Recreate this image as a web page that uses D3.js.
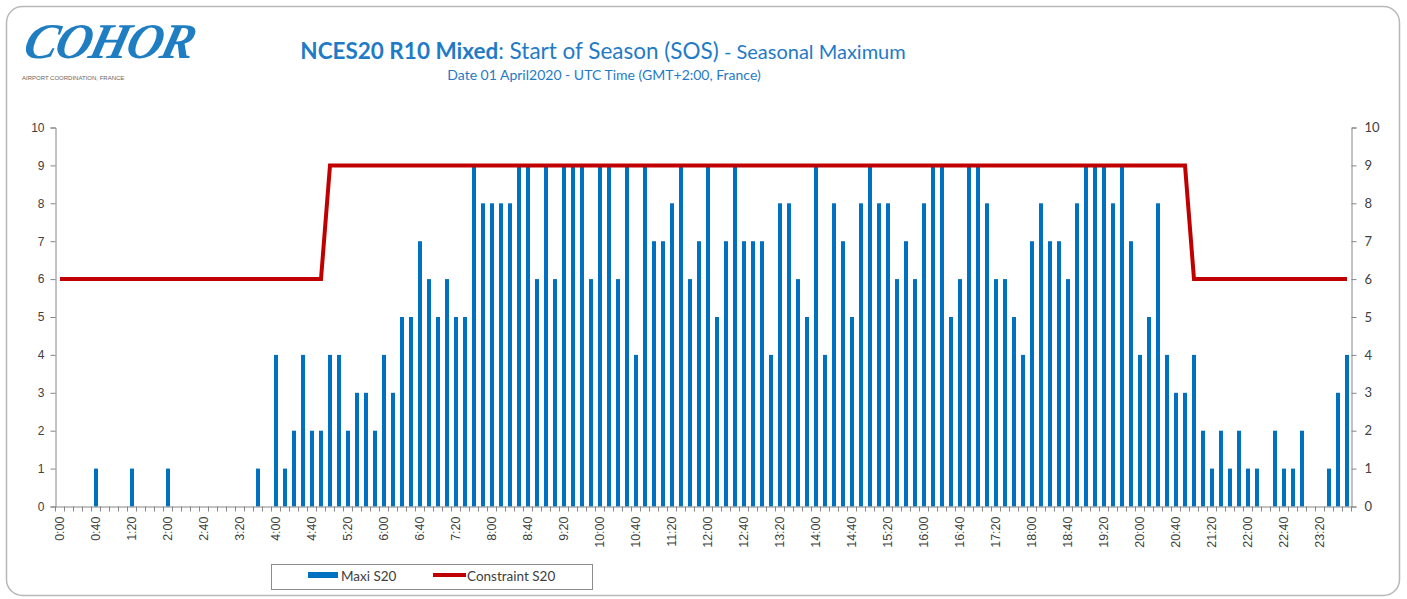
<!DOCTYPE html>
<html>
<head>
<meta charset="utf-8">
<script src="https://cdn.jsdelivr.net/npm/d3@7"></script>
<style>
  body { margin: 0; background: #fff; }
  svg { display: block; }
</style>
</head>
<body>
<div id="chart"></div>
<script>
// 10-minute slots, 0:00 .. 23:50
const slots = d3.range(0, 144).map(i => `${Math.floor(i / 6)}:${String((i % 6) * 10).padStart(2, "0")}`);

// Maxi S20 (bars)
const maxiS20 = [
  0,0,0,0,1,0,0,0,1,0,0,0,1,0,0,0,0,0,0,0,0,0,1,0,
  4,1,2,4,2,2,4,4,2,3,3,2,4,3,5,5,7,6,5,6,5,5,9,8,
  8,8,8,9,9,6,9,6,9,9,9,6,9,9,6,9,4,9,7,7,8,9,6,7,
  9,5,7,9,7,7,7,4,8,8,6,5,9,4,8,7,5,8,9,8,8,6,7,6,
  8,9,9,5,6,9,9,8,6,6,5,4,7,8,7,7,6,8,9,9,9,8,9,7,
  4,5,8,4,3,3,4,2,1,2,1,2,1,1,0,2,1,1,2,0,0,1,3,4
];

// Constraint S20 (line)
const constraintS20 = [
  6,6,6,6,6,6,6,6,6,6,6,6,6,6,6,6,6,6,6,6,6,6,6,6,
  6,6,6,6,6,6,9,9,9,9,9,9,9,9,9,9,9,9,9,9,9,9,9,9,
  9,9,9,9,9,9,9,9,9,9,9,9,9,9,9,9,9,9,9,9,9,9,9,9,
  9,9,9,9,9,9,9,9,9,9,9,9,9,9,9,9,9,9,9,9,9,9,9,9,
  9,9,9,9,9,9,9,9,9,9,9,9,9,9,9,9,9,9,9,9,9,9,9,9,
  9,9,9,9,9,9,6,6,6,6,6,6,6,6,6,6,6,6,6,6,6,6,6,6
];

const yTicks = d3.range(0, 11);
const labelEvery = 4;

const W = 1407, H = 599;
const blue = "#0070C0", red = "#C00000", titleBlue = "#1F7BC6";
const axisGrey = "#868686", textGrey = "#404040";

const svg = d3.select("#chart").append("svg")
  .attr("width", W).attr("height", H);

// card frame
svg.append("rect")
  .attr("x", 6.5).attr("y", 6.5)
  .attr("width", 1393).attr("height", 589)
  .attr("rx", 16)
  .attr("fill", "#fff")
  .attr("stroke", "#b8b8b8")
  .attr("stroke-width", 1.5);

// logo
svg.append("text")
  .attr("x", 22).attr("y", 58)
  .attr("transform", "skewX(-14) translate(14,0)")
  .style("font-family", "'Liberation Serif', serif")
  .style("font-style", "italic")
  .style("font-weight", "bold")
  .style("font-size", "50px")
  .style("letter-spacing", "-2px")
  .attr("fill", "#1F7EC2")
  .text("COHOR");
svg.append("text")
  .attr("x", 22).attr("y", 80)
  .style("font-family", "'Liberation Sans', Arial, sans-serif")
  .style("font-size", "6px")
  .attr("fill", "#666")
  .text("AIRPORT COORDINATION, FRANCE");

// titles
const title = svg.append("text")
  .attr("x", 603).attr("y", 59)
  .attr("text-anchor", "middle")
  .style("font-family", "Lato, 'Open Sans', sans-serif")
  .attr("fill", titleBlue);
title.append("tspan").style("font-weight", "bold").style("font-size", "22.5px").text("NCES20 R10 Mixed");
title.append("tspan").style("font-size", "22.5px").text(": Start of Season (SOS)");
title.append("tspan").style("font-size", "20px").text(" - Seasonal Maximum");

svg.append("text")
  .attr("x", 604).attr("y", 80)
  .attr("text-anchor", "middle")
  .style("font-family", "Lato, 'Open Sans', sans-serif")
  .style("font-size", "14px")
  .attr("fill", titleBlue)
  .text("Date 01 April2020 - UTC Time (GMT+2:00, France)");

// scales
const x = d3.scaleBand().domain(slots).range([55.5, 1351.5]).padding(0);
const y = d3.scaleLinear().domain([0, 10]).range([506.5, 127.5]);
const bw = x.bandwidth();

// bars
svg.append("g")
  .selectAll("rect")
  .data(maxiS20.map((v, i) => ({ slot: slots[i], v })))
  .join("rect")
  .attr("x", d => x(d.slot) + bw / 2 - 2)
  .attr("y", d => y(d.v))
  .attr("width", 4)
  .attr("height", d => y(0) - y(d.v))
  .attr("fill", blue);

// constraint line
const line = d3.line()
  .x((d, i) => x(slots[i]) + bw / 2)
  .y(d => y(d));
svg.append("path")
  .datum(constraintS20)
  .attr("fill", "none")
  .attr("stroke", red)
  .attr("stroke-width", 4)
  .attr("stroke-linejoin", "miter")
  .attr("d", line);

// left axis
const leftAxis = svg.append("g")
  .attr("transform", `translate(${x.range()[0]},0)`)
  .call(d3.axisLeft(y).tickValues(yTicks).tickSize(5).tickPadding(6));
// right axis
const rightAxis = svg.append("g")
  .attr("transform", `translate(${x.range()[1]},0)`)
  .call(d3.axisRight(y).tickValues(yTicks).tickSize(5).tickPadding(8));

[leftAxis, rightAxis].forEach(g => {
  g.select(".domain").attr("stroke", axisGrey);
  g.selectAll(".tick line").attr("stroke", axisGrey);
  g.selectAll(".tick text")
    .attr("fill", textGrey)
    .style("font-size", "12px")
    .style("font-family", "'Liberation Sans', Arial, sans-serif");
});
rightAxis.selectAll(".tick text").style("font-family", "Lato, sans-serif").style("font-size", "13px");

// bottom axis: category labels every 40 minutes
const bottom = svg.append("g")
  .attr("transform", `translate(0,${y(0)})`)
  .call(d3.axisBottom(x)
    .tickValues(slots.filter((s, i) => i % labelEvery === 0))
    .tickSize(0)
    .tickPadding(0));
bottom.select(".domain").attr("stroke", axisGrey);
bottom.selectAll(".tick text")
  .attr("transform", "rotate(-90)")
  .attr("text-anchor", "end")
  .attr("x", -10)
  .attr("y", 0)
  .attr("dy", "0.35em")
  .attr("fill", textGrey)
  .style("font-size", "12.5px")
  .style("font-family", "'Liberation Sans', Arial, sans-serif");

// minor ticks at slot boundaries
bottom.append("g")
  .selectAll("line")
  .data(slots.concat(["end"]))
  .join("line")
  .attr("x1", (d, i) => x.range()[0] + i * bw)
  .attr("x2", (d, i) => x.range()[0] + i * bw)
  .attr("y1", 0).attr("y2", 5)
  .attr("stroke", axisGrey);

// legend
const lg = svg.append("g");
lg.append("rect")
  .attr("x", 271.5).attr("y", 564.5)
  .attr("width", 321).attr("height", 25)
  .attr("fill", "#fff")
  .attr("stroke", "#8c8c8c");
lg.append("rect")
  .attr("x", 308).attr("y", 572)
  .attr("width", 30).attr("height", 6)
  .attr("fill", blue);
lg.append("text")
  .attr("x", 341).attr("y", 581)
  .style("font-family", "Lato, sans-serif")
  .style("font-size", "13.5px")
  .attr("fill", textGrey)
  .text("Maxi S20");
lg.append("line")
  .attr("x1", 433).attr("x2", 466)
  .attr("y1", 575).attr("y2", 575)
  .attr("stroke", red)
  .attr("stroke-width", 4);
lg.append("text")
  .attr("x", 467).attr("y", 581)
  .style("font-family", "Lato, sans-serif")
  .style("font-size", "13.5px")
  .attr("fill", textGrey)
  .text("Constraint S20");
</script>
</body>
</html>
